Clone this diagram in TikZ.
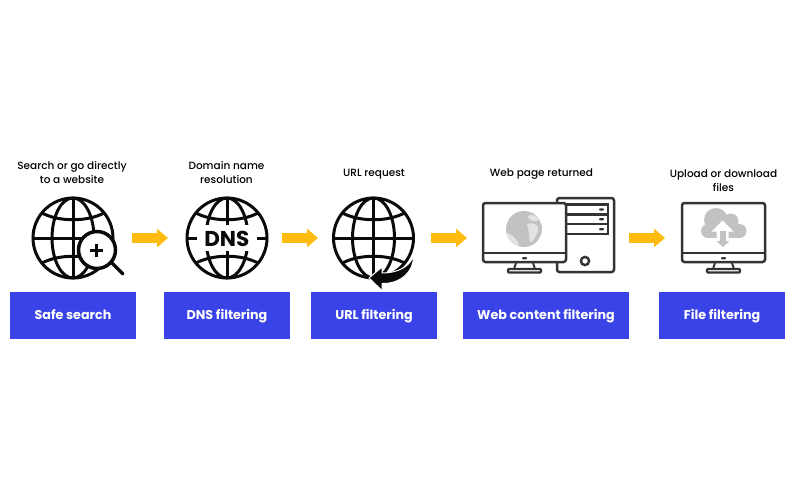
\documentclass[tikz,border=0pt]{standalone}
\usepackage{fontspec}
\setmainfont{Poppins}
\usetikzlibrary{arrows.meta}
\definecolor{boxblue}{HTML}{3A43E8}
\definecolor{arrowgold}{HTML}{FFBC0F}
\definecolor{ink}{HTML}{0A0A0A}
\definecolor{dev}{HTML}{333333}
\definecolor{pale}{HTML}{C2C2C2}
\definecolor{lightland}{HTML}{E2E2E2}
\tikzset{
  bluebox/.style={fill=boxblue,text=white,minimum height=47pt,inner sep=0pt,text height=10pt,text depth=2pt,font=\fontsize{12.7}{14}\selectfont\bfseries},
  caption/.style={align=center,text=black,font=\fontsize{10.5}{14}\selectfont\fontspec{Poppins Medium}},
  flow/.style={arrowgold,line width=10pt,-{Triangle[length=11pt,width=18pt]}},
  globeline/.style={ink,line width=3pt},
  devline/.style={dev,line width=2.5pt,rounded corners=2.5pt},
}
\newcommand{\globeframe}[1]{%
  \begin{scope}[shift={(#1)}]
    \draw[globeline] (0,0) circle[radius=40];
    \draw[globeline] (0,-40) -- (0,40);
    \draw[globeline] (-40,0) -- (40,0);
    \draw[globeline] (0,0) ellipse[x radius=21,y radius=40];
    \draw[globeline] (-31,-25) .. controls (-14,-16) and (14,-16) .. (31,-25);
    \draw[globeline] (-31,25) .. controls (-14,16) and (14,16) .. (31,25);
  \end{scope}}
\newcommand{\monitor}[2]{%
  \begin{scope}[shift={(#1,#2)}]
    \draw[devline,fill=white] (0,0) rectangle (83,59);
    \draw[dev,line width=2.5pt] (0,50) -- (83,50);
    \fill[dev,rounded corners=1pt] (39,54) rectangle (44,56.4);
    \draw[dev,line width=2pt] (33,60) -- (31,66) (50,60) -- (52,66);
    \draw[dev,line width=2.2pt,rounded corners=1pt] (25,66) rectangle (58,69.5);
  \end{scope}}
\begin{document}
\begin{tikzpicture}[x=1pt,y=-1pt]
\useasboundingbox (0,0) rectangle (800,480);
% captions
\node[caption] (c1) at (72,172.5) {Search or go directly\\to a website};
\node[caption] (c2) at (226.5,172.5) {Domain name\\resolution};
\node[caption] (c3) at (374,174.5) {URL request};
\node[caption] (c4) at (541.5,174.5) {Web page returned};
\node[caption] (c5) at (723.5,180.5) {Upload or download\\files};
% boxes
\node[bluebox,minimum width=126pt] (b1) at (73,315.5) {Safe search};
\node[bluebox,minimum width=126pt] (b2) at (227,315.5) {DNS filtering};
\node[bluebox,minimum width=126pt] (b3) at (374,315.5) {URL filtering};
\node[bluebox,minimum width=166pt] (b4) at (546,315.5) {Web content filtering};
\node[bluebox,minimum width=126pt] (b5) at (722,315.5) {File filtering};
% flow arrows
\coordinate (a1s) at (132,238); \coordinate (a1e) at (168,238);
\coordinate (a2s) at (282,238); \coordinate (a2e) at (318,238);
\coordinate (a3s) at (431,238); \coordinate (a3e) at (467,238);
\coordinate (a4s) at (629,238); \coordinate (a4e) at (665,238);
\draw[flow] (a1s) -- (a1e);
\draw[flow] (a2s) -- (a2e);
\draw[flow] (a3s) -- (a3e);
\draw[flow] (a4s) -- (a4e);
% globe 1 with magnifier
\globeframe{73,238}
\draw[ink,line width=3.4pt,line cap=round] (111,262) -- (123,274);
\draw[ink,line width=3.5pt,fill=white] (97,250) circle[radius=18.5];
\draw[ink,line width=3.6pt] (90,250.5) -- (103,250.5) (96.5,244) -- (96.5,257);
% globe 2 DNS
\globeframe{227,238}
\fill[white] (197,225) rectangle (257,251);
\node[font=\fontsize{21.5}{22}\selectfont\bfseries,text=ink,inner sep=0pt] (dns) at (226.8,238.5) {DNS};
% globe 3 URL
\globeframe{373.5,238}
\draw[white,line width=1pt,fill=ink] (369,278) -- (382,267) -- (382,273)
  .. controls (396,273) and (409,268) .. (413.5,256)
  .. controls (414,272) and (400,284) .. (382,283.5) -- (382,290.5) -- cycle;
% server
\draw[devline,fill=white] (557,198) rectangle (614,272);
\draw[dev,line width=2.4pt] (560,204.5) -- (608,204.5) -- (608,234) -- (560,234)
  (560,214.5) -- (608,214.5) (560,224) -- (608,224);
\fill[dev,rounded corners=1pt] (599,208.3) rectangle (604,210.7);
\fill[dev,rounded corners=1pt] (599,218) rectangle (604,220.4);
\fill[dev,rounded corners=1pt] (599,228) rectangle (604,230.4);
\draw[dev,line width=2.4pt] (585,261) circle[radius=4.1];
% monitor 1
\monitor{483}{203}
\begin{scope}
  \clip (524,229) circle[radius=18];
  \fill[pale] (524,229) circle[radius=18];
  \fill[lightland] (527,224) .. controls (531,222) and (537,224) .. (538,227) .. controls (539,232) and (534,240) .. (531,243) .. controls (528,240) and (530,232) .. (527,224) -- cycle;
  \fill[lightland] (527,216) .. controls (532,214) and (537,215) .. (540,220) .. controls (535,222) and (530,222) .. (527,216) -- cycle;
  \fill[lightland] (505,232) .. controls (510,233) and (516,238) .. (519,244) .. controls (517,250) and (505,250) .. (503,240) -- cycle;
\end{scope}
% monitor 2
\monitor{682}{203}
\fill[pale] (708,231) circle[radius=7];
\fill[pale] (716,220) circle[radius=12];
\fill[pale] (731,221) circle[radius=7.5];
\fill[pale] (739.5,231) circle[radius=7];
\fill[pale] (708,226) rectangle (739.5,238);
\fill[white] (722.5,220.5) -- (733.5,231.5) -- (728.5,231.5) -- (728.5,239) -- (716.5,239) -- (716.5,231.5) -- (711.5,231.5) -- cycle;
\fill[pale] (720,231) -- (726,231) -- (726,241) -- (729.5,241) -- (723,247) -- (716.5,241) -- (720,241) -- cycle;
\end{tikzpicture}
\end{document}
